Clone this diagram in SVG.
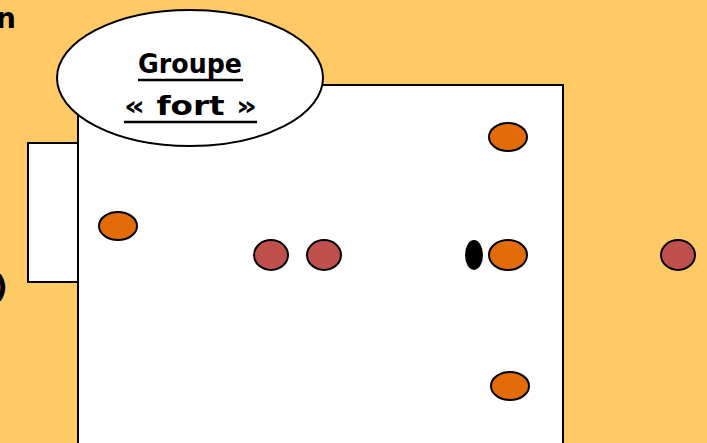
<svg xmlns="http://www.w3.org/2000/svg" width="707" height="443" viewBox="0 0 707 443">
<style>
.box{fill:#fff;stroke:#000;stroke-width:2}
.o{fill:#E36C09;stroke:#000;stroke-width:2}
.r{fill:#C0504D;stroke:#000;stroke-width:2}
.t{font-family:"Comic Sans MS","DejaVu Sans",sans-serif;font-weight:bold;fill:#000}
</style>
<rect width="707" height="443" fill="#FFC966"/>
<text class="t" x="-4" y="28" font-size="28">n</text>
<text class="t" x="-6" y="297" font-size="30">)</text>
<g id="side-box"><rect class="box" x="28" y="143" width="50" height="139"/></g>
<g id="field"><rect class="box" x="78" y="85" width="485" height="370"/></g>
<g id="label">
<ellipse cx="190" cy="78" rx="133" ry="68" fill="#fff" stroke="#000" stroke-width="2"/>
<text class="t" x="138" y="73" font-size="26" textLength="104" lengthAdjust="spacingAndGlyphs">Groupe</text>
<line x1="138" y1="80" x2="243" y2="80" stroke="#000" stroke-width="2.5"/>
<text class="t" x="124" y="115" font-size="26" textLength="133" lengthAdjust="spacingAndGlyphs">« fort »</text>
<line x1="124" y1="122" x2="257" y2="122" stroke="#000" stroke-width="2.5"/>
</g>
<g id="p1"><ellipse class="o" cx="118" cy="226" rx="19" ry="14"/></g>
<g id="p2"><ellipse class="r" cx="271" cy="255" rx="17" ry="15"/></g>
<g id="p3"><ellipse class="r" cx="324" cy="255" rx="17" ry="15"/></g>
<g id="ball"><ellipse cx="474" cy="255" rx="9" ry="15" fill="#000"/></g>
<g id="p4"><ellipse class="o" cx="508" cy="255" rx="19" ry="15"/></g>
<g id="p5"><ellipse class="o" cx="508" cy="137" rx="19" ry="14"/></g>
<g id="p6"><ellipse class="o" cx="510" cy="386" rx="19" ry="14"/></g>
<g id="p7"><ellipse class="r" cx="678" cy="255" rx="17" ry="15"/></g>
<g id="connectors"></g>
</svg>
